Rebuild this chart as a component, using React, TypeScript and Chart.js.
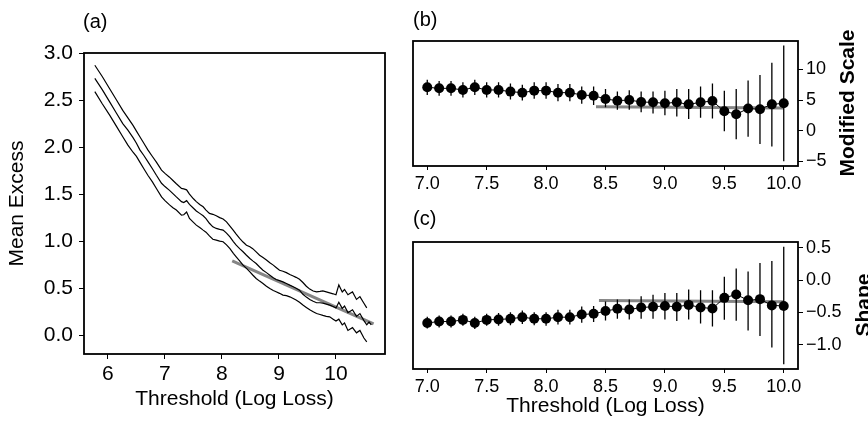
import React, { useEffect, useRef } from 'react';
import { Chart, registerables } from 'chart.js';

Chart.register(...registerables);

const FONT = '"Liberation Sans", Arial, Helvetica, sans-serif';

// ---------- Panel (a): mean excess plot ----------
const meX = [
  5.77, 5.9, 6.03, 6.15, 6.26, 6.35, 6.44, 6.5, 6.56, 6.63,
  6.7, 6.78, 6.85, 6.94, 7.0, 7.08, 7.14, 7.2, 7.29, 7.33,
  7.38, 7.43, 7.5, 7.55, 7.61, 7.67, 7.72, 7.78, 7.84, 7.9,
  7.96, 8.02, 8.08, 8.14, 8.2, 8.25, 8.31, 8.37, 8.43, 8.49,
  8.54, 8.6, 8.66, 8.72, 8.78, 8.84, 8.9, 8.95, 9.01, 9.07,
  9.13, 9.19, 9.25, 9.3, 9.36, 9.42, 9.48, 9.54, 9.6, 9.66,
  9.72, 9.77, 9.83, 9.89, 9.95, 10.0, 10.05, 10.11, 10.15, 10.21,
  10.25, 10.29, 10.36, 10.42, 10.49, 10.54, 10.58, 10.62,
];
const meUpper = [
  2.87, 2.75, 2.62, 2.5, 2.39, 2.31, 2.23, 2.17, 2.11, 2.04,
  1.97, 1.9, 1.84, 1.755, 1.72, 1.68, 1.645, 1.61, 1.56, 1.555,
  1.545, 1.5, 1.45, 1.42, 1.39, 1.365, 1.33, 1.295, 1.285, 1.27,
  1.25, 1.235, 1.205, 1.16, 1.115, 1.075, 1.03, 0.99, 0.957, 0.94,
  0.92, 0.885, 0.85, 0.825, 0.8, 0.77, 0.745, 0.72, 0.69, 0.68,
  0.665, 0.645, 0.63, 0.615, 0.595, 0.56, 0.52, 0.49, 0.47, 0.46,
  0.465, 0.47, 0.46, 0.45, 0.44, 0.43, 0.535, 0.46, 0.486, 0.43,
  0.445, 0.46, 0.38, 0.41, 0.34, 0.29, null, null,
];
const meMid = [
  2.73, 2.61, 2.48, 2.36, 2.25, 2.18, 2.1, 2.04, 1.97, 1.91,
  1.845, 1.77, 1.7, 1.615, 1.58, 1.54, 1.505, 1.47, 1.42, 1.41,
  1.43, 1.39, 1.35, 1.32, 1.295, 1.27, 1.24, 1.19, 1.152, 1.135,
  1.125, 1.117, 1.085, 1.045, 0.995, 0.957, 0.92, 0.887, 0.85, 0.815,
  0.79, 0.762, 0.725, 0.691, 0.665, 0.638, 0.61, 0.592, 0.58, 0.567,
  0.55, 0.532, 0.515, 0.5, 0.479, 0.435, 0.405, 0.38, 0.36, 0.345,
  0.345, 0.34, 0.33, 0.32, 0.305, 0.29, 0.35, 0.285, 0.31, 0.24,
  0.255, 0.27, 0.2, 0.23, 0.155, 0.11, 0.14, 0.11,
];
const meLower = [
  2.59, 2.46, 2.34, 2.22, 2.11, 2.02, 1.945, 1.9, 1.84, 1.77,
  1.7, 1.63, 1.56, 1.47, 1.43, 1.385, 1.355, 1.33, 1.277, 1.28,
  1.31, 1.241, 1.2, 1.17, 1.145, 1.117, 1.095, 1.055, 1.02, 1.01,
  1.0, 0.993, 0.96, 0.92, 0.87, 0.833, 0.79, 0.745, 0.71, 0.674,
  0.64, 0.603, 0.575, 0.55, 0.52, 0.496, 0.475, 0.461, 0.445, 0.426,
  0.42, 0.408, 0.39, 0.375, 0.35, 0.32, 0.295, 0.27, 0.25, 0.23,
  0.22, 0.21, 0.2, 0.195, 0.17, 0.15, 0.17, 0.11, 0.13, 0.05,
  0.065, 0.08, 0.025, 0.05, -0.03, -0.07, null, null,
];
const meFitX = [8.18, 10.66];
const meFitY = [0.79, 0.12];
const meXTicks = [6, 7, 8, 9, 10];
const meYTicks = [0, 0.5, 1, 1.5, 2, 2.5, 3];

// ---------- Panels (b) and (c): parameter stability ----------
const thresholds = [
  7.0, 7.1, 7.2, 7.3, 7.4, 7.5, 7.6, 7.7, 7.8, 7.9, 8.0,
  8.1, 8.2, 8.3, 8.4, 8.5, 8.6, 8.7, 8.8, 8.9, 9.0,
  9.1, 9.2, 9.3, 9.4, 9.5, 9.6, 9.7, 9.8, 9.9, 10.0,
];
const scaleMean = [
  7.08, 6.91, 6.91, 6.64, 7.08, 6.64, 6.64, 6.37, 6.2, 6.53, 6.53,
  6.2, 6.2, 5.82, 5.71, 5.17, 4.89, 5.0, 4.67, 4.62, 4.46,
  4.62, 4.29, 4.62, 4.84, 3.15, 2.68, 3.6, 3.5, 4.29, 4.46,
];
const scaleUpper = [
  8.3, 8.1, 8.1, 7.9, 8.3, 7.9, 7.9, 7.7, 7.5, 7.9, 7.9,
  7.6, 7.6, 7.2, 7.2, 6.8, 6.4, 6.6, 6.4, 6.4, 6.5,
  6.8, 6.8, 7.2, 7.7, 6.5, 6.8, 8.2, 9.1, 11.1, 13.9,
];
const scaleLower = [
  5.8, 5.7, 5.7, 5.4, 5.8, 5.4, 5.4, 5.1, 4.9, 5.2, 5.2,
  4.8, 4.8, 4.4, 4.2, 3.8, 3.4, 3.4, 3.0, 2.8, 2.5,
  2.3, 1.9, 2.1, 2.0, -0.1, -1.4, -1.0, -2.2, -2.6, -5.0,
];
const scaleFitX = [8.42, 10.0];
const scaleFitY = [3.9, 3.7];

const shapeMean = [
  -0.664, -0.643, -0.643, -0.617, -0.664, -0.617, -0.61, -0.6, -0.575, -0.6, -0.6,
  -0.575, -0.575, -0.533, -0.523, -0.48, -0.445, -0.455, -0.425, -0.413, -0.4,
  -0.413, -0.384, -0.424, -0.44, -0.275, -0.222, -0.313, -0.295, -0.392, -0.4,
];
const shapeUpper = [
  -0.57, -0.55, -0.55, -0.52, -0.57, -0.52, -0.51, -0.5, -0.47, -0.5, -0.5,
  -0.46, -0.46, -0.41, -0.4, -0.33, -0.3, -0.3, -0.25, -0.225, -0.2,
  -0.2, -0.146, -0.157, -0.157, 0.055, 0.183, 0.135, 0.265, 0.298, 0.52,
];
const shapeLower = [
  -0.75, -0.735, -0.735, -0.71, -0.76, -0.71, -0.71, -0.7, -0.68, -0.7, -0.71,
  -0.69, -0.69, -0.66, -0.65, -0.625, -0.6, -0.61, -0.6, -0.6, -0.61,
  -0.635, -0.61, -0.675, -0.72, -0.615, -0.632, -0.78, -0.868, -1.045, -1.306,
];
const shapeFitX = [8.445, 10.0];
const shapeFitY = [-0.315, -0.335];

const threshTicks = [7, 7.5, 8, 8.5, 9, 9.5, 10];
const scaleYTicks = [-5, 0, 5, 10];
const shapeYTicks = [-1, -0.5, 0, 0.5];

// ---------- helpers ----------
const fmtSigned = (v: number, digits: number) =>
  (v < 0 ? '\u2212' : '') + Math.abs(v).toFixed(digits);

const framePlugin = {
  id: 'frame',
  afterDraw(chart: any) {
    const { ctx, chartArea: a } = chart;
    ctx.save();
    ctx.strokeStyle = '#000';
    ctx.lineWidth = 1.8;
    ctx.strokeRect(a.left, a.top, a.right - a.left, a.bottom - a.top);
    ctx.restore();
  },
};

const pts = (xs: number[], ys: (number | null)[]) => xs.map((x, i) => ({ x, y: ys[i] }));

const errorBarPts = (xs: number[], lo: number[], hi: number[]) =>
  xs.flatMap((x, i) => [
    { x, y: lo[i] },
    { x, y: hi[i] },
    { x, y: null },
  ]);

function axisGrid(len: number) {
  return {
    display: true,
    drawOnChartArea: false,
    drawTicks: true,
    tickLength: len,
    color: '#000',
    lineWidth: 1,
  };
}

function makeMeanExcess(canvas: HTMLCanvasElement) {
  return new Chart(canvas, {
    type: 'line',
    data: {
      datasets: [
        { data: pts(meX, meUpper), borderColor: '#000', borderWidth: 1.2, pointRadius: 0, spanGaps: false, tension: 0 },
        { data: pts(meX, meMid), borderColor: '#000', borderWidth: 1.2, pointRadius: 0, spanGaps: false, tension: 0 },
        { data: pts(meX, meLower), borderColor: '#000', borderWidth: 1.2, pointRadius: 0, spanGaps: false, tension: 0 },
        { data: pts(meFitX, meFitY), borderColor: '#858585', borderWidth: 3, pointRadius: 0, tension: 0 },
      ],
    } as any,
    options: {
      responsive: false,
      animation: false,
      layout: { padding: { left: 0, top: 53, right: 15, bottom: 0 } },
      plugins: { legend: { display: false }, tooltip: { enabled: false } },
      scales: {
        x: {
          type: 'linear',
          position: 'bottom',
          min: 5.58,
          max: 10.86,
          afterBuildTicks: (s: any) => { s.ticks = meXTicks.map((v) => ({ value: v })); },
          afterFit: (s: any) => { s.height = 73; },
          grid: axisGrid(5),
          border: { display: false },
          ticks: {
            color: '#000', padding: 3, maxRotation: 0, autoSkip: false,
            font: { family: FONT, size: 21 },
            callback: (v: any) => String(v),
          },
          title: {
            display: true, text: 'Threshold (Log Loss)', color: '#000',
            font: { family: FONT, size: 21 }, padding: { top: 0, bottom: 15 },
          },
        },
        y: {
          type: 'linear',
          position: 'left',
          min: -0.2,
          max: 3.0,
          afterBuildTicks: (s: any) => { s.ticks = meYTicks.map((v) => ({ value: v })); },
          afterFit: (s: any) => { s.width = 84; },
          grid: axisGrid(5),
          border: { display: false },
          ticks: {
            color: '#000', padding: 6, autoSkip: false,
            font: { family: FONT, size: 21 },
            callback: (v: any) => Number(v).toFixed(1),
          },
          title: {
            display: true, text: 'Mean Excess', color: '#000',
            font: { family: FONT, size: 21 }, padding: { top: 5, bottom: 0 },
          },
        },
      },
    } as any,
    plugins: [framePlugin],
  });
}

interface StabOpts {
  mean: number[];
  upper: number[];
  lower: number[];
  fitX: number[];
  fitY: number[];
  yMin: number;
  yMax: number;
  yTicks: number[];
  yDigits: number;
  top: number;
  xHeight: number;
  xTitle: boolean;
}

function makeStability(canvas: HTMLCanvasElement, o: StabOpts) {
  return new Chart(canvas, {
    type: 'line',
    data: {
      datasets: [
        { data: errorBarPts(thresholds, o.lower, o.upper), borderColor: '#000', borderWidth: 1.3, pointRadius: 0, spanGaps: false, tension: 0 },
        {
          data: pts(thresholds, o.mean), borderColor: '#000', borderWidth: 1, tension: 0,
          pointRadius: 5, pointBackgroundColor: '#000', pointBorderColor: '#000', pointBorderWidth: 0,
        },
        { data: pts(o.fitX, o.fitY), borderColor: '#858585', borderWidth: 3, pointRadius: 0, tension: 0 },
      ],
    } as any,
    options: {
      responsive: false,
      animation: false,
      layout: { padding: { left: 13, top: o.top, right: 0, bottom: 0 } },
      plugins: { legend: { display: false }, tooltip: { enabled: false } },
      scales: {
        x: {
          type: 'linear',
          position: 'bottom',
          min: 6.88,
          max: 10.12,
          afterBuildTicks: (s: any) => { s.ticks = threshTicks.map((v) => ({ value: v })); },
          afterFit: (s: any) => { s.height = o.xHeight; },
          grid: axisGrid(4),
          border: { display: false },
          ticks: {
            color: '#000', padding: 3, maxRotation: 0, autoSkip: false,
            font: { family: FONT, size: 18 },
            callback: (v: any) => Number(v).toFixed(1),
          },
          title: {
            display: o.xTitle, text: 'Threshold (Log Loss)', color: '#000',
            font: { family: FONT, size: 21 }, padding: { top: 0, bottom: 8 },
          },
        },
        y: {
          type: 'linear',
          position: 'right',
          min: o.yMin,
          max: o.yMax,
          afterBuildTicks: (s: any) => { s.ticks = o.yTicks.map((v) => ({ value: v })); },
          afterFit: (s: any) => { s.width = 70; },
          grid: axisGrid(5),
          border: { display: false },
          ticks: {
            color: '#000', padding: 3, autoSkip: false,
            font: { family: FONT, size: 18 },
            callback: (v: any) => fmtSigned(Number(v), o.yDigits),
          },
        },
      },
    } as any,
    plugins: [framePlugin],
  });
}

export default function App() {
  const aRef = useRef<HTMLCanvasElement>(null);
  const bRef = useRef<HTMLCanvasElement>(null);
  const cRef = useRef<HTMLCanvasElement>(null);

  useEffect(() => {
    const charts: Chart[] = [];
    if (aRef.current) charts.push(makeMeanExcess(aRef.current));
    if (bRef.current)
      charts.push(
        makeStability(bRef.current, {
          mean: scaleMean, upper: scaleUpper, lower: scaleLower,
          fitX: scaleFitX, fitY: scaleFitY,
          yMin: -5.78, yMax: 14.64, yTicks: scaleYTicks, yDigits: 0,
          top: 41, xHeight: 29, xTitle: false,
        })
      );
    if (cRef.current)
      charts.push(
        makeStability(cRef.current, {
          mean: shapeMean, upper: shapeUpper, lower: shapeLower,
          fitX: shapeFitX, fitY: shapeFitY,
          yMin: -1.38, yMax: 0.593, yTicks: shapeYTicks, yDigits: 1,
          top: 47, xHeight: 58, xTitle: true,
        })
      );
    return () => charts.forEach((c) => c.destroy());
  }, []);

  const label = (text: string, left: number, top: number) => (
    <div style={{ position: 'absolute', left, top, fontSize: 20, lineHeight: '20px', fontFamily: FONT, color: '#000' }}>
      {text}
    </div>
  );

  const sideTitle = (text: string, cx: number, cy: number) => (
    <div
      style={{
        position: 'absolute', left: cx, top: cy,
        transform: 'translate(-50%, -50%) rotate(-90deg)',
        fontSize: 21, lineHeight: '21px', fontWeight: 'bold', whiteSpace: 'nowrap',
        fontFamily: FONT, color: '#000',
      }}
    >
      {text}
    </div>
  );

  return (
    <div style={{ position: 'absolute', left: 0, top: 0, width: 868, height: 427, overflow: 'hidden', background: '#fff' }}>
      <canvas ref={aRef} width={400} height={427} style={{ position: 'absolute', left: 0, top: 0 }} />
      <canvas ref={bRef} width={468} height={195} style={{ position: 'absolute', left: 400, top: 0 }} />
      <canvas ref={cRef} width={468} height={232} style={{ position: 'absolute', left: 400, top: 195 }} />
      {label('(a)', 83, 11)}
      {label('(b)', 413, 9)}
      {label('(c)', 413, 208)}
      {sideTitle('Modified Scale', 846, 103)}
      {sideTitle('Shape', 862, 305)}
    </div>
  );
}
